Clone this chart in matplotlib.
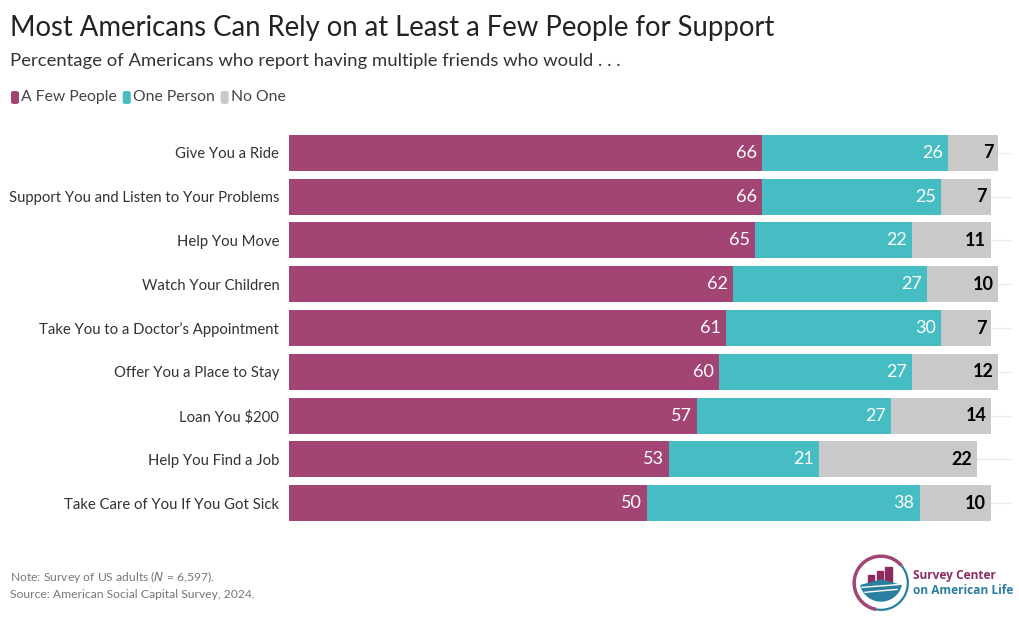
import matplotlib.pyplot as plt
import numpy as np
from matplotlib.patches import FancyBboxPatch, Arc, Rectangle, Wedge

plt.rcParams['font.family'] = ['Lato', 'DejaVu Sans']

categories = [
    "Give You a Ride",
    "Support You and Listen to Your Problems",
    "Help You Move",
    "Watch Your Children",
    "Take You to a Doctor\u2019s Appointment",
    "Offer You a Place to Stay",
    "Loan You $200",
    "Help You Find a Job",
    "Take Care of You If You Got Sick",
]
few_people = [66, 66, 65, 62, 61, 60, 57, 53, 50]
one_person = [26, 25, 22, 27, 30, 27, 27, 21, 38]
no_one = [7, 7, 11, 10, 7, 12, 14, 22, 10]
series_names = ["A Few People", "One Person", "No One"]

c_few = '#A24574'
c_one = '#46BCC3'
c_none = '#C9C9C9'

W, H = 1020, 634
fig = plt.figure(figsize=(W / 100, H / 100), dpi=100)

# axes placed in pixel terms
ax_l, ax_r, ax_t, ax_b = 289, 1012, 131, 525
ax = fig.add_axes([ax_l / W, 1 - ax_b / H, (ax_r - ax_l) / W, (ax_b - ax_t) / H])

y = np.arange(len(categories))
few = np.array(few_people)
one = np.array(one_person)
none = np.array(no_one)

for yi in y:
    ax.axhline(yi, color='#EBEBEB', linewidth=0.8, zorder=0)

ax.barh(y, few, height=0.82, color=c_few, zorder=2)
ax.barh(y, one, left=few, height=0.82, color=c_one, zorder=2)
ax.barh(y, none, left=few + one, height=0.82, color=c_none, zorder=2)

pad = 0.7
for yi in y:
    ax.text(few[yi] - pad, yi, str(few[yi]), ha='right', va='center',
            color='white', fontsize=13, zorder=3)
    ax.text(few[yi] + one[yi] - pad, yi, str(one[yi]), ha='right', va='center',
            color='white', fontsize=13, zorder=3)
    ax.text(few[yi] + one[yi] + none[yi] - pad, yi, str(none[yi]), ha='right', va='center',
            color='black', fontsize=13, fontweight='bold', zorder=3)

ax.set_xlim(0, 100.9)
ax.set_ylim(len(categories) - 0.5, -0.5)
ax.set_yticks(y)
ax.set_yticklabels(categories, fontsize=10.7, color='#333333')
ax.tick_params(axis='y', length=0, pad=7)
ax.set_xticks([])
for s in ax.spines.values():
    s.set_visible(False)

# titles
fig.text(10 / W, 1 - 28 / H, "Most Americans Can Rely on at Least a Few People for Support",
         fontsize=19.8, color='#222222', va='center', ha='left')
fig.text(10 / W, 1 - 61 / H, "Percentage of Americans who report having multiple friends who would . . .",
         fontsize=13.3, color='#333333', va='center', ha='left')

# legend
lx = 11
for name, col in zip(series_names, [c_few, c_one, c_none]):
    sq = FancyBboxPatch((lx / W, 1 - 104 / H), 8 / W, 13 / H,
                        boxstyle='round,pad=0,rounding_size=0.003',
                        transform=fig.transFigure, color=col, lw=0)
    fig.patches.append(sq)
    t = fig.text((lx + 10) / W, 1 - 97 / H, name, fontsize=11.3, color='#444444',
                 va='center', ha='left')
    fig.canvas.draw()
    bb = t.get_window_extent()
    lx = bb.x1 + 6

# notes
fig.text(10 / W, 1 - 577 / H, "Note: Survey of US adults ($\\it{N}$ = 6,597).",
         fontsize=8.7, color='#777777', va='center', ha='left')
fig.text(10 / W, 1 - 594 / H, "Source: American Social Capital Survey, 2024.",
         fontsize=8.7, color='#777777', va='center', ha='left')

# logo
lax = fig.add_axes([852 / W, 1 - 612 / H, 58 / W, 58 / H])
lax.set_xlim(-1, 1)
lax.set_ylim(-1, 1)
lax.set_aspect('equal')
lax.axis('off')
lax.add_patch(Arc((0, 0), 1.85, 1.85, theta1=40, theta2=260, color=c_few, lw=2.5))
lax.add_patch(Arc((0, 0), 1.85, 1.85, theta1=260, theta2=400, color='#2A7FA0', lw=1.6))
for bx, bh in zip([-0.45, -0.15, 0.15], [0.28, 0.42, 0.58]):
    lax.add_patch(Rectangle((bx, -0.02), 0.22, bh, color='#8C2B5F'))
lax.add_patch(Wedge((0, 0.1), 0.72, 195, 345, color='#2A7FA0'))
lax.plot([-0.65, 0.65], [-0.15, -0.05], color='white', lw=1)
lax.plot([-0.55, 0.55], [-0.32, -0.22], color='white', lw=1)
fig.text(913 / W, 1 - 576 / H, "Survey Center", fontsize=8.6, color='#8C2B5F',
         fontweight='bold', va='center', ha='left', family=['Open Sans', 'DejaVu Sans'])
fig.text(913 / W, 1 - 590 / H, "on American Life", fontsize=8.6, color='#2A7FA0',
         fontweight='bold', va='center', ha='left', family=['Open Sans', 'DejaVu Sans'])

fig.savefig('out.png', dpi=100)
